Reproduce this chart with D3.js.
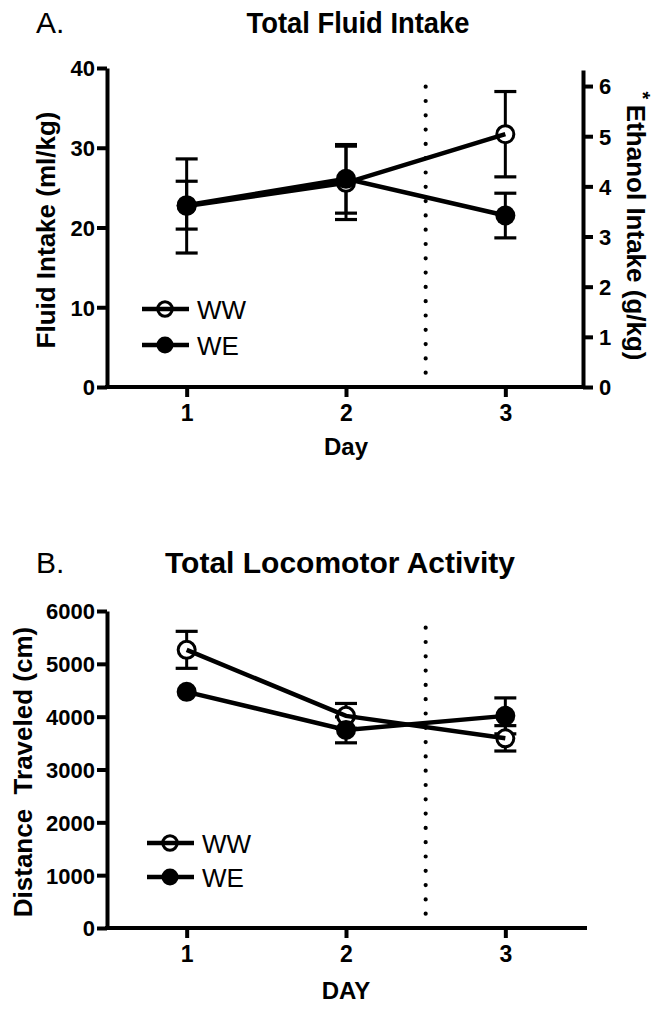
<!DOCTYPE html>
<html>
<head>
<meta charset="utf-8">
<script src="https://cdnjs.cloudflare.com/ajax/libs/d3/7.8.5/d3.min.js"></script>
<style>
  html, body { margin: 0; padding: 0; background: #fff; }
  svg { display: block; }
  text { font-family: "Liberation Sans", Arial, sans-serif; fill: #000; }
</style>
</head>
<body>
<svg id="chart" width="662" height="1010"></svg>
<script>
// ---------- data ----------
const days = [1, 2, 3];
const dayTicks = ["1", "2", "3"];
const seriesNames = ["WW", "WE"];

// Panel A: Total Fluid Intake (ml/kg)
const fluidWW = [22.7, 25.6, 31.7];
const fluidWWErr = [5.9, 4.6, 5.35];
const fluidWE = [22.8, 26.1, 21.5];
const fluidWEErr = [3.0, 4.3, 2.8];
const fluidTicks = [0, 10, 20, 30, 40];
const ethanolTicks = [0, 1, 2, 3, 4, 5, 6];

// Panel B: Total Locomotor Activity (cm)
const locoWW = [5265, 4015, 3590];
const locoWWErr = [350, 235, 240];
const locoWE = [4470, 3750, 4015];
const locoWEErr = [60, 245, 340];
const locoTicks = [0, 1000, 2000, 3000, 4000, 5000, 6000];

// ---------- drawing ----------
const svg = d3.select("#chart");
const MARKER_R = 10;

function drawPanel(cfg) {
  const g = svg.append("g");
  const x = d3.scaleLinear().domain([0.5, 3.5]).range([107, 585]);
  const y = d3.scaleLinear().domain(cfg.yDomain).range([cfg.yBottom, cfg.yTop]);

  // panel letter & title
  g.append("text").attr("x", 36).attr("y", cfg.titleY)
    .attr("font-size", 30).text(cfg.letter);
  const t = g.append("text").attr("x", cfg.titleX).attr("y", cfg.titleY)
    .attr("font-size", 30).attr("font-weight", "bold")
    .attr("text-anchor", "middle").text(cfg.title);
  if (cfg.titleLen) t.attr("textLength", cfg.titleLen).attr("lengthAdjust", "spacingAndGlyphs");

  // dotted vertical line at day 2.5
  g.append("line")
    .attr("x1", x(2.5)).attr("x2", x(2.5))
    .attr("y1", cfg.yBottom).attr("y2", cfg.dotTop)
    .attr("stroke", "#000").attr("stroke-width", 4.2)
    .attr("stroke-linecap", "round")
    .attr("stroke-dasharray", "0 14.3");

  // left axis
  const yAxis = d3.axisLeft(y).tickValues(cfg.ticks).tickSize(10).tickSizeOuter(0).tickPadding(2)
    .tickFormat(d3.format("d"));
  const ya = g.append("g").attr("transform", `translate(107,0)`).call(yAxis);
  styleAxis(ya);
  ya.selectAll("text").attr("font-size", 22).attr("font-weight", "bold").attr("dy", "0.36em");

  // x axis
  const xAxis = d3.axisBottom(x).tickValues(days).tickSize(10).tickSizeOuter(0).tickPadding(8)
    .tickFormat((d, i) => dayTicks[i]);
  const xa = g.append("g").attr("transform", `translate(0,${cfg.yBottom})`).call(xAxis);
  styleAxis(xa);
  xa.select(".domain").attr("d", `M105,0H${cfg.xEnd}`);
  xa.selectAll("text").attr("font-size", 23).attr("font-weight", "bold").attr("dy", "0.71em");

  // right axis (optional)
  if (cfg.right) {
    const y2 = d3.scaleLinear().domain(cfg.right.domain).range([cfg.yBottom, cfg.yTop + 2]);
    const ra = g.append("g").attr("transform", `translate(583,0)`)
      .call(d3.axisRight(y2).tickValues(cfg.right.ticks).tickSize(10).tickSizeOuter(0).tickPadding(6)
        .tickFormat(d3.format("d")));
    styleAxis(ra);
    ra.selectAll("text").attr("font-size", 22).attr("font-weight", "bold").attr("dy", "0.36em");
    // right label
    const rl = g.append("text")
      .attr("transform", `translate(627,${cfg.right.labelY}) rotate(90)`)
      .attr("text-anchor", "middle").attr("font-size", 26).attr("font-weight", "bold");
    rl.append("tspan").attr("font-size", 20).attr("dy", -9).text("* ");
    rl.append("tspan").attr("dy", 9).text(cfg.right.label);
  }

  // left label
  g.append("text")
    .attr("transform", `translate(${cfg.yLabelX},${cfg.yLabelY}) rotate(-90)`)
    .attr("text-anchor", "middle").attr("font-size", 26).attr("font-weight", "bold")
    .style("white-space", "pre")
    .text(cfg.yLabel);

  // x label
  g.append("text").attr("x", 346).attr("y", cfg.xLabelY)
    .attr("text-anchor", "middle").attr("font-size", 24).attr("font-weight", "bold")
    .text(cfg.xLabel);

  // series
  const series = [
    { name: seriesNames[0], vals: cfg.ww, errs: cfg.wwErr, open: true },
    { name: seriesNames[1], vals: cfg.we, errs: cfg.weErr, open: false }
  ];
  const capW = 11;
  series.forEach(s => {
    const eb = g.append("g");
    days.forEach((d, i) => {
      const cx = x(d), top = y(s.vals[i] + s.errs[i]), bot = y(s.vals[i] - s.errs[i]);
      // error bars shorter than the marker are hidden (as in the original software)
      if ((bot - top) / 2 < MARKER_R) return;
      eb.append("line").attr("x1", cx).attr("x2", cx).attr("y1", top).attr("y2", bot)
        .attr("stroke", "#000").attr("stroke-width", 3);
      [top, bot].forEach(yy => eb.append("line")
        .attr("x1", cx - capW).attr("x2", cx + capW).attr("y1", yy).attr("y2", yy)
        .attr("stroke", "#000").attr("stroke-width", 3.2));
    });
  });
  series.forEach(s => {
    days.forEach((d, i) => {
      drawMarker(g, x(d), y(s.vals[i]), s.open);
    });
  });
  const line = d3.line().x((d, i) => x(days[i])).y(d => y(d));
  series.forEach(s => {
    g.append("path").attr("d", line(s.vals)).attr("fill", "none")
      .attr("stroke", "#000").attr("stroke-width", 4.5);
  });

  // legend
  series.forEach((s, i) => {
    const ly = cfg.legendY[i];
    drawMarker(g, cfg.legendX, ly, s.open, 0.85);
    g.append("line").attr("x1", cfg.legendX - 23).attr("x2", cfg.legendX + 24)
      .attr("y1", ly).attr("y2", ly).attr("stroke", "#000").attr("stroke-width", 4.5);
    g.append("text").attr("x", cfg.legendX + 32).attr("y", ly + 9.5)
      .attr("font-size", 26).text(s.name);
  });
}

function drawMarker(g, cx, cy, open, k = 1) {
  if (open) {
    g.append("circle").attr("cx", cx).attr("cy", cy).attr("r", (MARKER_R - 1.5) * k)
      .attr("fill", "#fff").attr("stroke", "#000").attr("stroke-width", 3);
  } else {
    g.append("circle").attr("cx", cx).attr("cy", cy).attr("r", MARKER_R * k).attr("fill", "#000");
  }
}

function styleAxis(a) {
  a.select(".domain").attr("stroke", "#000").attr("stroke-width", 4).attr("fill", "none");
  a.selectAll(".tick line").attr("stroke", "#000").attr("stroke-width", 4);
  a.selectAll("text").attr("fill", "#000").style("font-family", '"Liberation Sans", Arial, sans-serif');
}

drawPanel({
  letter: "A.", title: "Total Fluid Intake", titleX: 358, titleY: 33, titleLen: 223,
  yDomain: [0, 40], yBottom: 387, yTop: 68, ticks: fluidTicks,
  dotTop: 85, xEnd: 585,
  yLabel: "Fluid Intake (ml/kg)", yLabelX: 55, yLabelY: 230,
  xLabel: "Day", xLabelY: 455,
  ww: fluidWW, wwErr: fluidWWErr, we: fluidWE, weErr: fluidWEErr,
  legendX: 165, legendY: [309, 345],
  right: { domain: [0, 6.32], ticks: ethanolTicks, label: "Ethanol Intake (g/kg)", labelY: 226 }
});

drawPanel({
  letter: "B.", title: "Total Locomotor Activity", titleX: 340, titleY: 573,
  yDomain: [0, 6000], yBottom: 928, yTop: 611, ticks: locoTicks,
  dotTop: 621, xEnd: 587,
  yLabel: "Distance  Traveled (cm)", yLabelX: 32, yLabelY: 772,
  xLabel: "DAY", xLabelY: 999,
  ww: locoWW, wwErr: locoWWErr, we: locoWE, weErr: locoWEErr,
  legendX: 170, legendY: [843, 877]
});
</script>
</body>
</html>
